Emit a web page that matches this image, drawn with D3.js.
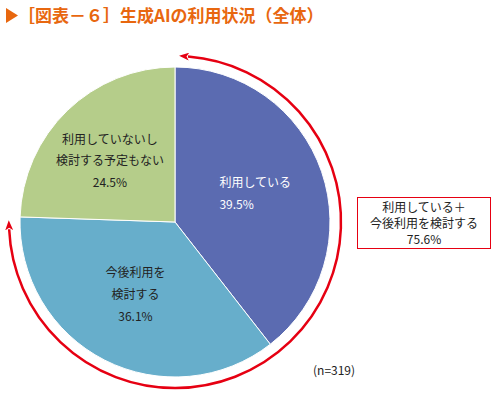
<!DOCTYPE html>
<html>
<head>
<meta charset="utf-8">
<script src="https://cdn.jsdelivr.net/npm/d3@7"></script>
<style>
  body { margin: 0; background: #fff; }
  svg { display: block; font-family: "Noto Sans CJK JP", sans-serif; }
</style>
</head>
<body>
<svg id="chart" width="500" height="400"></svg>
<script>
// data
const categories = ['利用している', '今後利用を検討する', '利用していないし検討する予定もない']
const values = [39.5, 36.1, 24.5]
const labelLines = [
  ['利用している', '39.5%'],
  ['今後利用を', '検討する', '36.1%'],
  ['利用していないし', '検討する予定もない', '24.5%']
]
const colors = ['#5b6bb1', '#67aecb', '#b5cd8a']
const calloutLines = ['利用している＋', '今後利用を検討する', '75.6%']
const sampleNote = '(n=319)'
const title = '［図表－６］生成AIの利用状況（全体）'

const svg = d3.select('#chart')
const cx = 175, cy = 222, radius = 155
const red = '#e60012'

// title
svg.append('path')
  .attr('d', 'M6,8 L18,15.5 L6,23 Z')
  .attr('fill', '#e8670f')
svg.append('text')
  .attr('x', 18)
  .attr('y', 21.5)
  .attr('fill', '#e8670f')
  .style('font-size', '17px')
  .style('font-weight', 'bold')
  .text(title)

// pie
const pie = d3.pie().sort(null).value(d => d)
const arcs = pie(values)
const arc = d3.arc().innerRadius(0).outerRadius(radius)
const labelArc = d3.arc().innerRadius(85).outerRadius(85)

const g = svg.append('g').attr('transform', `translate(${cx},${cy})`)

g.selectAll('.slice')
  .data(arcs)
  .enter()
  .append('path')
  .attr('class', 'slice')
  .attr('d', arc)
  .attr('fill', (d, i) => colors[i])
  .attr('stroke', '#fff')
  .attr('stroke-width', 1)

// label layout tweaks (relative to centroid)
const labelShift = [
  { dx: -36, dy: -11, anchor: 'start', fill: '#fff', gap: 22 },
  { dx: -1, dy: -25, anchor: 'middle', fill: '#222', gap: 22 },
  { dx: -6, dy: -21, anchor: 'middle', fill: '#222', gap: 21.5 }
]

arcs.forEach((d, i) => {
  const [x, y] = labelArc.centroid(d)
  const s = labelShift[i]
  const t = g.append('text')
    .attr('text-anchor', s.anchor)
    .attr('fill', s.fill)
    .style('font-size', '12px')
  labelLines[i].forEach((line, j) => {
    t.append('tspan')
      .attr('x', x + s.dx)
      .attr('y', y + s.dy + j * s.gap + 4)
      .text(line)
  })
})

// red arrow arc around the two "using" slices
const defs = svg.append('defs')
defs.append('marker')
  .attr('id', 'arrow')
  .attr('viewBox', '0 0 10 8')
  .attr('markerWidth', 10)
  .attr('markerHeight', 8)
  .attr('markerUnits', 'userSpaceOnUse')
  .attr('refX', 1)
  .attr('refY', 4)
  .attr('orient', 'auto-start-reverse')
  .append('path')
  .attr('d', 'M0,0 L10,4 L0,8 L2.5,4 Z')
  .attr('fill', red)

const arrowR = 166
const a0 = 4.5 * Math.PI / 180
const a1 = 267.5 * Math.PI / 180
const p = d3.path()
p.arc(0, 0, arrowR, a0 - Math.PI / 2, a1 - Math.PI / 2, false)
g.append('path')
  .attr('d', p.toString())
  .attr('fill', 'none')
  .attr('stroke', red)
  .attr('stroke-width', 2.5)
  .attr('marker-start', 'url(#arrow)')
  .attr('marker-end', 'url(#arrow)')

// callout box
const box = svg.append('g').attr('transform', 'translate(357,197)')
box.append('rect')
  .attr('x', 0.5).attr('y', 0.5)
  .attr('width', 133).attr('height', 51)
  .attr('fill', '#fff')
  .attr('stroke', red)
  .attr('stroke-width', 1)
box.append('text')
  .attr('text-anchor', 'middle')
  .attr('fill', '#222')
  .style('font-size', '12px')
  .selectAll('tspan')
  .data(calloutLines)
  .enter()
  .append('tspan')
  .attr('x', 67)
  .attr('y', (d, i) => 15 + i * 16)
  .text(d => d)

svg.append('text')
  .attr('x', 313)
  .attr('y', 375)
  .attr('fill', '#222')
  .style('font-size', '12px')
  .text(sampleNote)
</script>
</body>
</html>
